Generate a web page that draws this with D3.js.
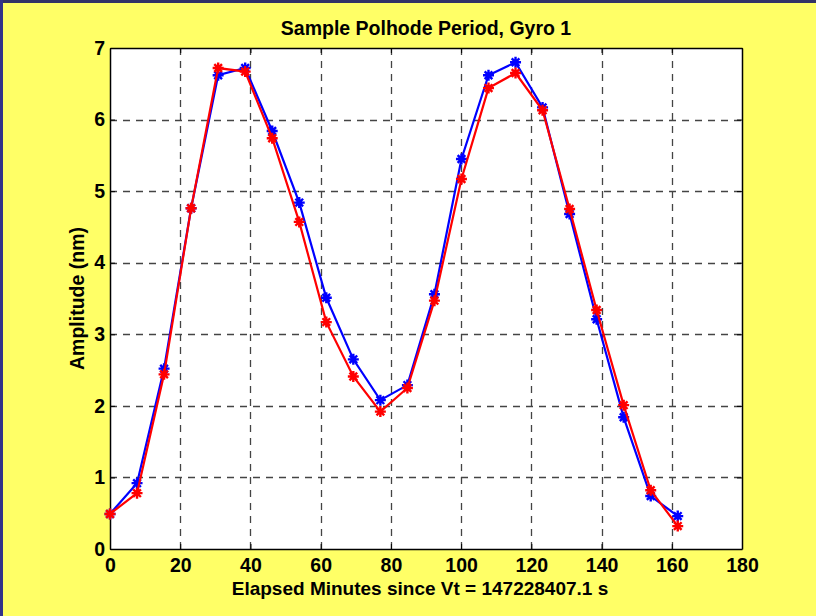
<!DOCTYPE html>
<html><head><meta charset="utf-8">
<script src="https://cdn.jsdelivr.net/npm/d3@7"></script>
<style>body{margin:0;padding:0;background:#ffff66;}svg{display:block;}</style>
</head><body>
<script>
const minutes = [0, 7.7, 15.4, 23.1, 30.8, 38.5, 46.2, 53.9, 61.6, 69.3, 77, 84.7, 92.4, 100.1, 107.8, 115.5, 123.2, 130.9, 138.6, 146.3, 154, 161.7];
const blueAmp = [0.49, 0.92, 2.52, 4.76, 6.62, 6.72, 5.84, 4.84, 3.51, 2.65, 2.08, 2.29, 3.56, 5.45, 6.62, 6.80, 6.17, 4.68, 3.21, 1.84, 0.74, 0.46];
const redAmp  = [0.49, 0.78, 2.44, 4.76, 6.72, 6.67, 5.74, 4.57, 3.17, 2.41, 1.92, 2.25, 3.47, 5.17, 6.44, 6.65, 6.13, 4.75, 3.34, 2.01, 0.82, 0.32];
const xTicks = [0, 20, 40, 60, 80, 100, 120, 140, 160, 180];
const yTicks = [0, 1, 2, 3, 4, 5, 6, 7];
const titleText = "Sample Polhode Period, Gyro 1";
const xLabel = "Elapsed Minutes since Vt = 147228407.1 s";
const yLabel = "Amplitude (nm)";

const W = 816, H = 616;
const m = {left:110, right:816-742, top:48, bottom:616-549};
const svg = d3.select("body").append("svg").attr("width", W).attr("height", H);
svg.append("rect").attr("width", W).attr("height", H).attr("fill", "#ffff66");
svg.append("rect").attr("x",0).attr("y",0).attr("width",W).attr("height",3).attr("fill","#333366");
svg.append("rect").attr("x",0).attr("y",0).attr("width",3).attr("height",H).attr("fill","#333388");

const x = d3.scaleLinear().domain([0,180]).range([m.left, W-m.right]);
const y = d3.scaleLinear().domain([0,7]).range([H-m.bottom, m.top]);
const font = "'Liberation Sans', Arial, Helvetica, sans-serif";

svg.append("rect").attr("x", x(0)).attr("y", y(7)).attr("width", x(180)-x(0)).attr("height", y(0)-y(7)).attr("fill", "#fff");

const g = svg.append("g").attr("stroke", "#444").attr("stroke-width", 1.3).attr("stroke-dasharray", "7,6");
g.selectAll(".gx").data(xTicks.slice(1,-1)).join("line")
  .attr("x1", d=>Math.round(x(d))+0.5).attr("x2", d=>Math.round(x(d))+0.5).attr("y1", y(7)).attr("y2", y(0));
g.selectAll(".gy").data(yTicks.slice(1,-1)).join("line")
  .attr("y1", d=>Math.round(y(d))+0.5).attr("y2", d=>Math.round(y(d))+0.5).attr("x1", x(0)).attr("x2", x(180));

const fmt = d3.format("d");
const axB = d3.axisBottom(x).tickValues(xTicks).tickFormat(fmt).tickSizeInner(-5).tickSizeOuter(0).tickPadding(9);
const axL = d3.axisLeft(y).tickValues(yTicks).tickFormat(fmt).tickSizeInner(-5).tickSizeOuter(0).tickPadding(5);
const axT = d3.axisTop(x).tickValues(xTicks).tickSizeInner(-5).tickSizeOuter(0).tickFormat("");
const axR = d3.axisRight(y).tickValues(yTicks).tickSizeInner(-5).tickSizeOuter(0).tickFormat("");
function style(sel){
  sel.selectAll("path").attr("stroke","#000").attr("stroke-width",1.5);
  sel.selectAll("line").attr("stroke","#000");
  sel.selectAll("text").attr("font-family", font).attr("font-weight","bold").attr("font-size","19.5px").attr("fill","#000");
}
svg.append("g").attr("transform",`translate(0,${y(0)})`).call(axB).call(style);
svg.append("g").attr("transform",`translate(${x(0)},0)`).call(axL).call(style);
svg.append("g").attr("transform",`translate(0,${y(7)})`).call(axT).call(style);
svg.append("g").attr("transform",`translate(${x(180)},0)`).call(axR).call(style);

const line = d3.line().x(d=>x(d[0])).y(d=>y(d[1]));
function series(vals, color){
  const pts = minutes.map((t,i)=>[t, vals[i]]);
  svg.append("path").datum(pts).attr("d", line).attr("fill","none").attr("stroke",color).attr("stroke-width",2.2);
  const mk = svg.append("g").attr("stroke", color).attr("stroke-width", 2.4);
  const s = 5.5;
  pts.forEach(p=>{
    const cx = x(p[0]), cy = y(p[1]);
    mk.append("path").attr("d", `M${cx-s},${cy}H${cx+s}M${cx},${cy-s}V${cy+s}M${cx-s*0.7},${cy-s*0.7}L${cx+s*0.7},${cy+s*0.7}M${cx-s*0.7},${cy+s*0.7}L${cx+s*0.7},${cy-s*0.7}`);
  });
}
series(blueAmp, "#0000ff");
series(redAmp, "#ff0000");

svg.append("text").attr("x", (x(0)+x(180))/2).attr("y", 35).attr("text-anchor","middle")
  .attr("font-family", font).attr("font-weight","bold").attr("font-size","19.5px").text(titleText);
svg.append("text").attr("x", 420).attr("y", 595).attr("text-anchor","middle")
  .attr("font-family", font).attr("font-weight","bold").attr("font-size","19px").text(xLabel);
svg.append("text").attr("transform", `translate(84,${(y(0)+y(7))/2}) rotate(-90)`).attr("text-anchor","middle")
  .attr("font-family", font).attr("font-weight","bold").attr("font-size","19.5px").text(yLabel);
</script>
</body></html>
